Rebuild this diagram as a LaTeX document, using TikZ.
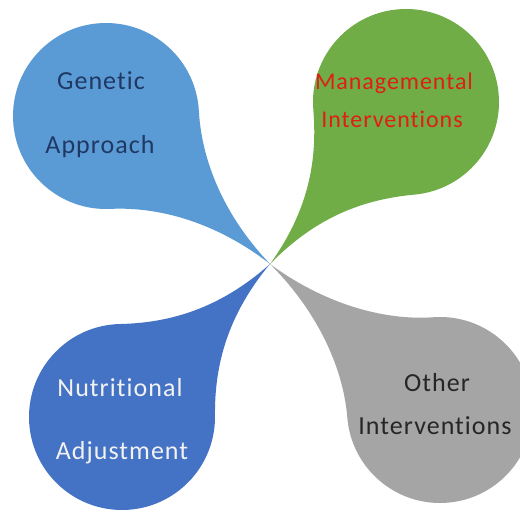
\documentclass[tikz,border=0pt]{standalone}
\usepackage{fontspec}
\setmainfont[LetterSpace=4,Ligatures=CommonOff]{Carlito}
\definecolor{dropA}{HTML}{5B9BD5}
\definecolor{dropB}{HTML}{70AD47}
\definecolor{dropC}{HTML}{4472C4}
\definecolor{dropD}{HTML}{A5A5A5}
\definecolor{txtA}{HTML}{1F3864}
\definecolor{txtB}{RGB}{224,30,20}
\definecolor{txtC}{HTML}{F2F2F2}
\definecolor{txtD}{HTML}{262626}
% teardrop: colour, centre x, centre y, direction of the tip, distance to the tip
\newcommand\petal[5]{%
  \begin{scope}[shift={(#2,#3)},rotate=#4]
    \fill[#1] (#5,0) .. controls ({#5-67},-5) and (101,-31) .. (-45:93)
      arc[start angle=-45,end angle=-315,radius=93]
      .. controls (101,31) and ({#5-67},5) .. (#5,0) -- cycle;
  \end{scope}}
\begin{document}
\begin{tikzpicture}[x=1pt,y=1pt,
  lbl/.style={anchor=base,inner sep=0pt,font=\fontsize{26}{30}\selectfont},
  lblsmall/.style={lbl,font=\fontsize{24}{28}\selectfont}]
\useasboundingbox (0,0) rectangle (520,513);
\fill[white] (0,0) rectangle (520,513);
\petal{dropA}{106}{397}{-42.06}{220.9}
\petal{dropB}{406}{411}{-130.0}{211.5}
\petal{dropC}{122}{96}{45.95}{212.9}
\petal{dropD}{440}{103}{139.34}{224.1}
\node[lbl,text=txtA] (gen) at (101,423) {Genetic};
\node[lbl,text=txtA] (app) at (100,359) {Approach};
\node[lblsmall,text=txtB] (man) at (394,423) {Managemental};
\node[lblsmall,text=txtB] (intb) at (392,385) {Interventions};
\node[lbl,text=txtC] (nut) at (120,116) {Nutritional};
\node[lbl,text=txtC] (adj) at (122,53) {Adjustment};
\node[lbl,text=txtD] (oth) at (437,121) {Other};
\node[lbl,text=txtD] (intd) at (435,78) {Interventions};
\end{tikzpicture}
\end{document}
